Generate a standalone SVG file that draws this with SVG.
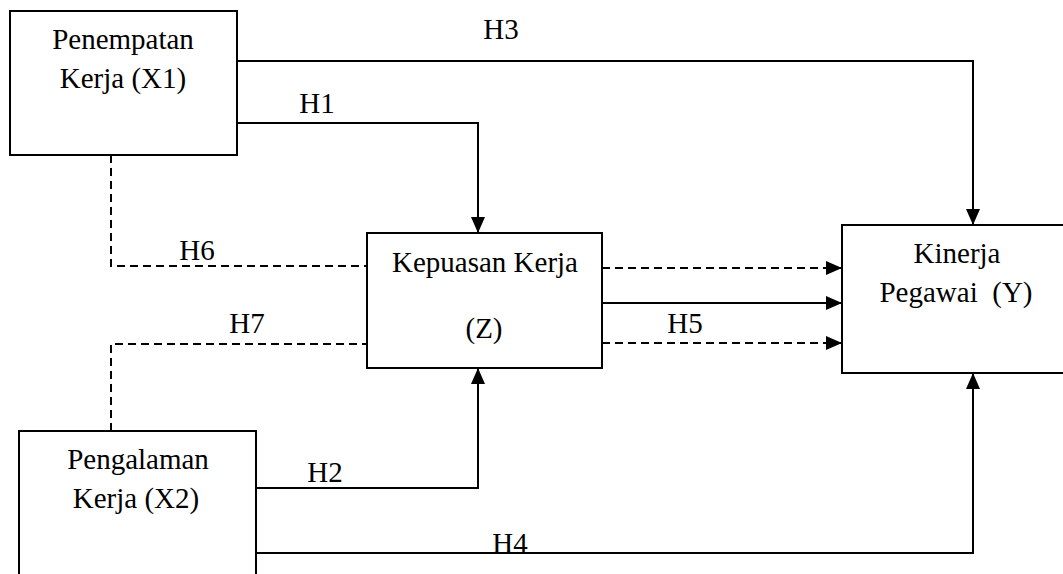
<svg xmlns="http://www.w3.org/2000/svg" width="1063" height="574" viewBox="0 0 1063 574">
<style>
.box{fill:#fff;stroke:#000;stroke-width:2}
text{font-family:'Liberation Serif','Times New Roman',Tinos,'DejaVu Serif',serif;font-size:29px;fill:#000;text-anchor:middle}
.c{fill:none;stroke:#000;stroke-width:2}
.d{stroke-dasharray:8 5}
</style>
<defs>
<marker id="ah" markerUnits="userSpaceOnUse" markerWidth="16" markerHeight="14" refX="15" refY="7" orient="auto">
<path d="M0,0 L16,7 L0,14 Z" fill="#000"/>
</marker>
</defs>
<rect width="1063" height="574" fill="#fff"/>
<g id="connectors" font-family="Liberation Serif, serif">
<path class="c" d="M237,61 H973 V224" marker-end="url(#ah)"/>
<path class="c" d="M237,123 H478 V232" marker-end="url(#ah)"/>
<path class="c d" d="M111,155 V266 H367"/>
<path class="c d" d="M111,431 V344 H367"/>
<path class="c d" d="M602,268 H841" marker-end="url(#ah)"/>
<path class="c" d="M602,303 H841" marker-end="url(#ah)"/>
<path class="c d" d="M602,343 H841" marker-end="url(#ah)"/>
<path class="c" d="M256,488 H478 V369" marker-end="url(#ah)"/>
<path class="c" d="M256,553 H973 V374" marker-end="url(#ah)"/>
<text x="501" y="39">H3</text>
<text x="317" y="113">H1</text>
<text x="197" y="260">H6</text>
<text x="247" y="333">H7</text>
<text x="685" y="333">H5</text>
<text x="325" y="482">H2</text>
<text x="510" y="553">H4</text>
</g>
<g id="x1">
<rect class="box" x="10" y="11" width="227" height="144"/>
<text x="123" y="49">Penempatan</text>
<text x="123" y="88">Kerja (X1)</text>
</g>
<g id="z">
<rect class="box" x="367" y="233" width="235" height="135"/>
<text x="485" y="272">Kepuasan Kerja</text>
<text x="484" y="338">(Z)</text>
</g>
<g id="y">
<rect class="box" x="842" y="225" width="240" height="148"/>
<text x="957" y="263">Kinerja</text>
<text x="956" y="302" xml:space="preserve">Pegawai  (Y)</text>
</g>
<g id="x2">
<rect class="box" x="19" y="431" width="237" height="200"/>
<text x="138" y="469">Pengalaman</text>
<text x="136" y="508">Kerja (X2)</text>
</g>
</svg>
